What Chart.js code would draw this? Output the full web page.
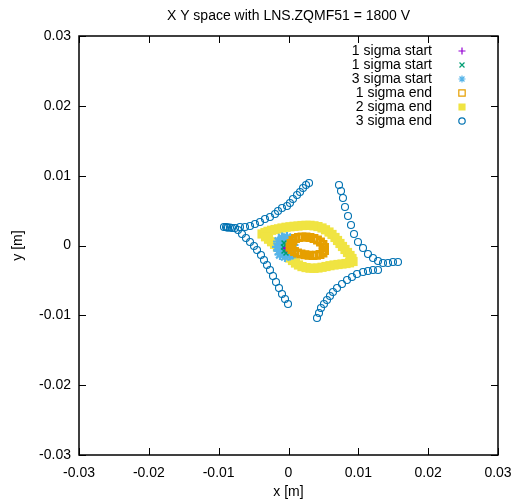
<!DOCTYPE html>
<html>
<head>
<meta charset="utf-8">
<script src="https://cdn.jsdelivr.net/npm/chart.js@4.4.0/dist/chart.umd.min.js"></script>
<style>
  body { margin: 0; background: #fff; }
</style>
</head>
<body>
<canvas id="xyChart" width="517" height="501"></canvas>
<script>
// values, in metres
var titleText = 'X Y space with LNS.ZQMF51 = 1800 V';
var tickLabels = ['-0.03', '-0.02', '-0.01', '0', '0.01', '0.02', '0.03'];
var seriesNames = ['1 sigma start', '1 sigma start', '3 sigma start', '1 sigma end', '2 sigma end', '3 sigma end'];

var start1aX = [-0.00029, -0.00021];
var start1aY = [-0.00043, -0.00029];

var start1bX = [-0.00064, -0.00072, -0.00064, -0.00036, -0.00036, -0.00036];
var start1bY = [0.00036, -0.00021, -0.00079, -0.00107, 0.00007, -0.00050];

var start3X = [-0.00158, -0.00143, -0.00093, -0.00021, 0.00036, 0.00064, 0.00064, 0.00021, -0.00050, -0.00122,
               -0.00079, -0.00079, -0.00021, -0.00122, -0.00021, -0.00136, 0.00050];
var start3Y = [-0.00021, 0.00057, 0.00107, 0.00115, 0.00079, 0.00007, -0.00079, -0.00136, -0.00158, -0.00129,
               0.00021, -0.00064, -0.00021, -0.00021, -0.00093, -0.00079, -0.00122];

var end1X = [0.00021, 0.00036, 0.00064, 0.00100, 0.00143, 0.00193, 0.00251, 0.00308, 0.00365, 0.00415, 0.00458, 0.00494,
             0.00516, 0.00516, 0.00494, 0.00451, 0.00401, 0.00351, 0.00294, 0.00236, 0.00179, 0.00129, 0.00086, 0.00050];
var end1Y = [-0.00021, 0.00029, 0.00072, 0.00100, 0.00115, 0.00122, 0.00122, 0.00115, 0.00100, 0.00079, 0.00050, 0.00014,
             -0.00029, -0.00072, -0.00107, -0.00129, -0.00140, -0.00143, -0.00140, -0.00133, -0.00122, -0.00107, -0.00086, -0.00057];

var end2X = [-0.00379, -0.00337, -0.00294, -0.00243, -0.00193, -0.00143, -0.00093, -0.00036, 0.00021, 0.00079, 0.00136, 0.00193,
             0.00251, 0.00308, 0.00365, 0.00422, 0.00480, 0.00530, 0.00580, 0.00623, 0.00666, 0.00702, 0.00737, 0.00773,
             0.00809, 0.00845, 0.00881, 0.00909, 0.00924,
             0.00874, 0.00823, 0.00766, 0.00709, 0.00652, 0.00594, 0.00537, 0.00480, 0.00422, 0.00365, 0.00308, 0.00251,
             0.00193, 0.00143, 0.00100, 0.00057, 0.00014, -0.00029, -0.00072, -0.00115, -0.00158, -0.00200, -0.00243,
             -0.00286, -0.00329];
var end2Y = [0.00165, 0.00186, 0.00203, 0.00218, 0.00229, 0.00239, 0.00251, 0.00261, 0.00268, 0.00275, 0.00279, 0.00286,
             0.00289, 0.00289, 0.00282, 0.00271, 0.00251, 0.00225, 0.00193, 0.00158, 0.00115, 0.00072, 0.00029, -0.00014,
             -0.00057, -0.00100, -0.00143, -0.00186, -0.00229,
             -0.00248, -0.00258, -0.00265, -0.00272, -0.00279, -0.00289, -0.00301, -0.00312, -0.00322, -0.00327, -0.00325, -0.00316,
             -0.00302, -0.00279, -0.00251, -0.00215, -0.00179, -0.00140, -0.00100, -0.00060, -0.00021, 0.00017, 0.00054,
             0.00090, 0.00125];

var end3X = [-0.00924, -0.00895, -0.00880, -0.00866, -0.00838, -0.00809, -0.00766,
             -0.00695, -0.00623, -0.00551, -0.00480, -0.00408, -0.00337, -0.00265, -0.00193, -0.00150, -0.00093, -0.00021,
             0.00021, 0.00064, 0.00122, 0.00165, 0.00208, 0.00251, 0.00294,
             -0.00723, -0.00666, -0.00609, -0.00551, -0.00494, -0.00451, -0.00394, -0.00351, -0.00308, -0.00265, -0.00222,
             -0.00179, -0.00136, -0.00093, -0.00050, -0.00007,
             0.00723, 0.00752, 0.00780, 0.00809, 0.00852, 0.00895, 0.00938, 0.00995, 0.01067, 0.01138, 0.01210, 0.01282,
             0.01353, 0.01425, 0.01496, 0.01568,
             0.01282, 0.01210, 0.01138, 0.01067, 0.00981, 0.00909, 0.00838, 0.00766, 0.00695, 0.00637, 0.00594, 0.00551,
             0.00508, 0.00465, 0.00437, 0.00408];
var end3Y = [0.00265, 0.00265, 0.00258, 0.00258, 0.00258, 0.00251, 0.00251,
             0.00265, 0.00265, 0.00279, 0.00308, 0.00337, 0.00379, 0.00408, 0.00451, 0.00494, 0.00537, 0.00566,
             0.00609, 0.00666, 0.00723, 0.00766, 0.00823, 0.00866, 0.00895,
             0.00222, 0.00165, 0.00107, 0.00050, -0.00007, -0.00064, -0.00136, -0.00208, -0.00279, -0.00351, -0.00437,
             -0.00523, -0.00609, -0.00695, -0.00766, -0.00838,
             0.00866, 0.00780, 0.00680, 0.00551, 0.00422, 0.00294, 0.00165, 0.00050, -0.00036, -0.00122, -0.00179, -0.00222,
             -0.00251, -0.00251, -0.00236, -0.00236,
             -0.00351, -0.00351, -0.00365, -0.00379, -0.00408, -0.00451, -0.00494, -0.00551, -0.00609, -0.00666, -0.00723, -0.00780,
             -0.00838, -0.00895, -0.00967, -0.01038];

var toPoints = function (xs, ys) {
    return xs.map(function (v, i) { return { x: v, y: ys[i] }; });
};

// order: lower number is drawn on top
var styles = [
    { color: '#9400d3', fill: '#9400d3', pointStyle: 'cross', radius: 3.5, width: 1.3, keyRadius: 3.5, order: 2 },
    { color: '#009e73', fill: '#009e73', pointStyle: 'crossRot', radius: 3.5, width: 1.5, keyRadius: 3.5, order: 3 },
    { color: '#56b4e9', fill: '#56b4e9', pointStyle: 'star', radius: 5.5, width: 2.2, keyRadius: 3.5, order: 4 },
    { color: '#e69f00', fill: 'rgba(0,0,0,0)', pointStyle: 'rect', radius: 4.5, width: 2.5, keyRadius: 4.5, order: 1 },
    { color: '#f0e442', fill: '#f0e442', pointStyle: 'rect', radius: 6.5, width: 0, keyRadius: 4.2, order: 5 },
    { color: '#0072b2', fill: 'rgba(0,0,0,0)', pointStyle: 'circle', radius: 3.5, width: 1.1, keyRadius: 3.2, order: 0 }
];

var seriesData = [
    toPoints(start1aX, start1aY),
    toPoints(start1bX, start1bY),
    toPoints(start3X, start3Y),
    toPoints(end1X, end1Y),
    toPoints(end2X, end2Y),
    toPoints(end3X, end3Y)
];

var datasets = seriesData.map(function (pts, i) {
    var s = styles[i];
    return {
        label: seriesNames[i],
        data: pts,
        pointStyle: s.pointStyle,
        pointRadius: s.radius,
        pointBorderWidth: s.width,
        pointBorderColor: s.color,
        pointBackgroundColor: s.fill,
        showLine: false,
        order: s.order
    };
});

var frameTicks = {
    id: 'frameTicks',
    afterDatasetsDraw: function (chart) {
        var ctx = chart.ctx, a = chart.chartArea;
        var sx = chart.scales.x, sy = chart.scales.y;
        var len = 7;
        ctx.save();
        ctx.strokeStyle = '#000';
        ctx.lineWidth = 1;
        ctx.beginPath();
        sx.ticks.forEach(function (t) {
            var px = Math.round(sx.getPixelForValue(t.value)) + 0.5;
            ctx.moveTo(px, a.bottom); ctx.lineTo(px, a.bottom - len);
            ctx.moveTo(px, a.top); ctx.lineTo(px, a.top + len);
        });
        sy.ticks.forEach(function (t) {
            var py = Math.round(sy.getPixelForValue(t.value)) + 0.5;
            ctx.moveTo(a.left, py); ctx.lineTo(a.left + len, py);
            ctx.moveTo(a.right, py); ctx.lineTo(a.right - len, py);
        });
        ctx.stroke();
        ctx.lineWidth = 1.5;
        ctx.strokeRect(a.left, a.top, a.right - a.left, a.bottom - a.top);
        ctx.restore();
    }
};

var fontFamily = '"Liberation Sans", Arial, sans-serif';

// title and key sit over the plot area like gnuplot puts them
var keyBox = {
    id: 'keyBox',
    afterDraw: function (chart) {
        var ctx = chart.ctx, a = chart.chartArea;
        var textX = a.right - 66, markX = a.right - 36;
        ctx.save();
        ctx.font = '14px ' + fontFamily;
        ctx.fillStyle = '#000';
        ctx.textAlign = 'center';
        ctx.textBaseline = 'middle';
        ctx.fillText(titleText, (a.left + a.right) / 2, 16);

        ctx.textAlign = 'right';
        seriesNames.forEach(function (name, i) {
            var y = a.top + 15 + i * 14;
            var s = styles[i];
            ctx.fillStyle = '#000';
            ctx.fillText(name, textX, y);
            ctx.strokeStyle = s.color;
            ctx.fillStyle = s.fill;
            ctx.lineWidth = s.width === 0 ? 0 : 1.2;
            Chart.helpers.drawPoint(ctx, {
                pointStyle: s.pointStyle,
                radius: s.keyRadius,
                rotation: 0,
                borderWidth: ctx.lineWidth
            }, markX, y);
        });
        ctx.restore();
    }
};

new Chart(document.getElementById('xyChart'), {
    type: 'scatter',
    data: { datasets: datasets },
    options: {
        responsive: false,
        devicePixelRatio: 1,
        animation: false,
        events: [],
        layout: { padding: { left: 0, right: 19, top: 36, bottom: 0 } },
        plugins: {
            legend: { display: false },
            tooltip: { enabled: false },
            title: { display: false }
        },
        scales: {
            x: {
                type: 'linear',
                min: -0.03,
                max: 0.03,
                afterFit: function (scale) {
                    scale.height = 46;
                    scale.paddingRight = 0;
                    scale.paddingLeft = 0;
                },
                grid: { display: false, drawTicks: false },
                border: { display: false },
                ticks: {
                    stepSize: 0.01,
                    padding: 10,
                    color: '#000',
                    font: { family: fontFamily, size: 14 },
                    callback: function (v, i) { return tickLabels[i]; }
                },
                title: {
                    display: true,
                    text: 'x [m]',
                    color: '#000',
                    font: { family: fontFamily, size: 14 },
                    padding: { top: 0, bottom: 0 }
                }
            },
            y: {
                type: 'linear',
                min: -0.03,
                max: 0.03,
                afterFit: function (scale) { scale.width = 79; },
                grid: { display: false, drawTicks: false },
                border: { display: false },
                ticks: {
                    stepSize: 0.01,
                    padding: 8,
                    color: '#000',
                    font: { family: fontFamily, size: 14 },
                    callback: function (v, i) { return tickLabels[i]; }
                },
                title: {
                    display: true,
                    text: 'y [m]',
                    color: '#000',
                    font: { family: fontFamily, size: 14 },
                    padding: { top: 10, bottom: 0 }
                }
            }
        }
    },
    plugins: [frameTicks, keyBox]
});
</script>
</body>
</html>
